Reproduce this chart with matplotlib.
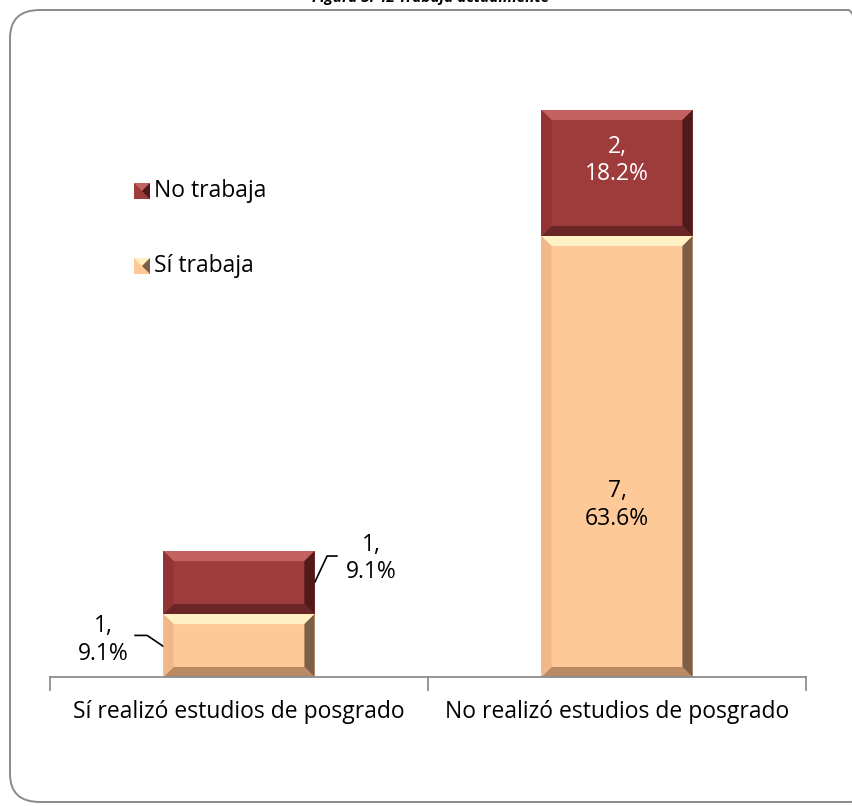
import matplotlib
matplotlib.use("Agg")
import matplotlib.pyplot as plt
from matplotlib.patches import Polygon, FancyBboxPatch, Rectangle

plt.rcParams['font.family'] = ['Open Sans', 'DejaVu Sans']

# data
categories = ["Sí realizó estudios de posgrado", "No realizó estudios de posgrado"]
si_trabaja = [1, 7]
no_trabaja = [1, 2]
si_pct = ["9.1%", "63.6%"]
no_pct = ["9.1%", "18.2%"]
series_names = ["Sí trabaja", "No trabaja"]

RED = "#9e3b3b"
PEACH = "#fdc998"
FS = 16.5


def bevel_bar(ax, x, bottom, height, width, base, top_c, left_c, right_c, bot_c):
    x0, x1 = x - width / 2, x + width / 2
    y0, y1 = bottom, bottom + height
    dx, dy = 0.027, 0.16
    ax.add_patch(Rectangle((x0, y0), width, height, fc=base, ec="none", zorder=2))
    polys = [
        ([(x0, y1), (x1, y1), (x1 - dx, y1 - dy), (x0 + dx, y1 - dy)], top_c),
        ([(x0, y0), (x1, y0), (x1 - dx, y0 + dy), (x0 + dx, y0 + dy)], bot_c),
        ([(x0, y0), (x0, y1), (x0 + dx, y1 - dy), (x0 + dx, y0 + dy)], left_c),
        ([(x1, y0), (x1, y1), (x1 - dx, y1 - dy), (x1 - dx, y0 + dy)], right_c),
    ]
    for pts, c in polys:
        ax.add_patch(Polygon(pts, closed=True, fc=c, ec="none", zorder=3))


fig = plt.figure(figsize=(8.53, 8.06), dpi=100)

# rounded chart border (right side runs past the image edge)
fig.patches.append(FancyBboxPatch((10 / 853, 4 / 806), 868 / 853, 792 / 806,
                                  boxstyle="round,pad=0,rounding_size=0.035",
                                  transform=fig.transFigure, fc="none",
                                  ec="#8a8a8a", lw=1.4, zorder=0))

fig.text(0.505, 1.003, "Figura 5. 42 Trabaja actualmente", ha="center", va="center",
         fontsize=11, fontweight="bold", style="italic")

ax = fig.add_axes([50 / 853, 129 / 806, 756 / 853, 630 / 806])
ax.set_xlim(-0.5, 1.5)
ax.set_ylim(0, 10)
ax.axis("off")

width = 0.4
xs = range(len(categories))
for i in xs:
    bevel_bar(ax, i, 0, si_trabaja[i], width, PEACH,
              "#fff1c4", "#f0b888", "#7d5e46", "#b98a64")
    bevel_bar(ax, i, si_trabaja[i], no_trabaja[i], width, RED,
              "#c46262", "#923434", "#4e1a1a", "#6a2626")

# axis line and ticks
ax.plot([-0.5, 1.5], [0, 0], color="#8c8c8c", lw=1.3, clip_on=False, zorder=4)
for t in [-0.5, 0.5, 1.5]:
    ax.plot([t, t], [0, -0.2], color="#8c8c8c", lw=1.3, clip_on=False, zorder=4)
for i in xs:
    ax.text(i, -0.55, categories[i], ha="center", va="center", fontsize=FS)

# labels, second bar inside
ax.text(1, si_trabaja[1] + 1.2, f"{no_trabaja[1]},\n{no_pct[1]}", ha="center",
        va="center", fontsize=FS, color="white", linespacing=1.2, zorder=5)
ax.text(1, 2.73, f"{si_trabaja[1]},\n{si_pct[1]}", ha="center",
        va="center", fontsize=FS, color="black", linespacing=1.2, zorder=5)

# labels, first bar outside with leader lines
ax.text(-0.36, 0.59, f"{si_trabaja[0]},\n{si_pct[0]}", ha="center",
        va="center", fontsize=FS, linespacing=1.2)
ax.plot([-0.275, -0.243, -0.201], [0.66, 0.66, 0.49], color="black", lw=1.2)
ax.text(0.35, 1.88, f"{no_trabaja[0]},\n{no_pct[0]}", ha="center",
        va="center", fontsize=FS, linespacing=1.2)
ax.plot([0.259, 0.233, 0.201], [1.92, 1.92, 1.51], color="black", lw=1.2)

# legend
leg_items = [(series_names[1], RED, "#c46262", "#4e1a1a"),
             (series_names[0], PEACH, "#fff1c4", "#7d5e46")]
for k, (name, c, light, dark) in enumerate(leg_items):
    fy = (806 - (191 + 75 * k)) / 806
    fx = 134 / 853
    s = 16
    fig.patches.append(Rectangle((fx, fy - s / 2 / 806), s / 853, s / 806,
                                 transform=fig.transFigure, fc=c, ec="none"))
    fig.patches.append(Polygon([(fx, fy + s / 2 / 806), (fx + s / 853, fy + s / 2 / 806),
                                (fx + s / 2 / 853, fy)], transform=fig.transFigure,
                               fc=light, ec="none"))
    fig.patches.append(Polygon([(fx + s / 853, fy + s / 2 / 806), (fx + s / 853, fy - s / 2 / 806),
                                (fx + s / 2 / 853, fy)], transform=fig.transFigure,
                               fc=dark, ec="none"))
    fig.text(154 / 853, fy, name, ha="left", va="center", fontsize=FS)

fig.savefig("out.png", dpi=100)
